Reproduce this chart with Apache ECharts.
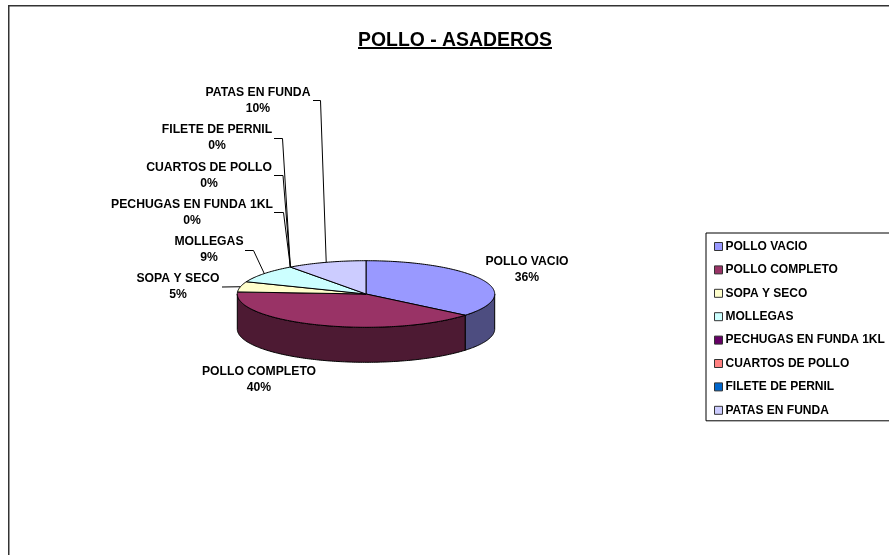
<!DOCTYPE html>
<html>
<head>
<meta charset="utf-8">
<style>
  html, body { margin: 0; padding: 0; background: #fff; }
  #chart { width: 889px; height: 555px; }
</style>
<script src="https://cdn.jsdelivr.net/npm/echarts@6/dist/echarts.min.js"></script>
</head>
<body>
<div id="chart"></div>
<script>
const titleText = 'POLLO - ASADEROS';
const categories = ['POLLO VACIO', 'POLLO COMPLETO', 'SOPA Y SECO', 'MOLLEGAS', 'PECHUGAS EN FUNDA 1KL', 'CUARTOS DE POLLO', 'FILETE DE PERNIL', 'PATAS EN FUNDA'];
const values = [36, 40, 5, 9, 0, 0, 0, 10];
const topColors = ['#9999FF', '#993366', '#FFFFCC', '#CCFFFF', '#660066', '#FF8080', '#0066CC', '#CCCCFF'];
const sideColors = ['#4D4D80', '#4D1A33', '#808066', '#668080', '#330033', '#804040', '#003366', '#666680'];

// 标签中心点 + 引线起点（折点）
const labelPos = [[527, 270], [259, 380], [178, 287], [209, 250], [192, 213], [209, 175.5], [217, 138], [258, 101]];
const leaderPos = [null, null, [[222, 287]], [[245, 250.5], [253.5, 250.5]], [[274, 212.5], [283.5, 212.5]], [[274, 175.5], [283, 175.5]], [[274, 138.5], [282.5, 138.5]], [[313, 100.5], [320.5, 100.5]]];

// 椭圆饼的几何
const cx = 366, cy = 294, rx = 128.7, ry = 33.3, depth = 35;
const total = values.reduce((a, b) => a + b, 0);
const font = 'bold 12.2px "Liberation Sans", Arial, sans-serif';

const edge = (deg) => {
  const a = deg * Math.PI / 180;
  return [cx + rx * Math.sin(a), cy - ry * Math.cos(a)];
};
const arcPoints = (from, to) => {
  const pts = [];
  for (let d = from; d < to; d += 1) pts.push(edge(d));
  pts.push(edge(to));
  return pts;
};

const renderSlice = (i) => {
  const start = values.slice(0, i).reduce((a, b) => a + b, 0) / total * 360;
  const end = start + values[i] / total * 360;
  const children = [];
  const border = { stroke: '#000', lineWidth: 1 };

  // 侧面：只画前半圈 (90° ~ 270°)
  const wallFrom = Math.max(start, 90), wallTo = Math.min(end, 270);
  if (wallTo > wallFrom) {
    const upper = arcPoints(wallFrom, wallTo);
    const lower = upper.map((p) => [p[0], p[1] + depth]).reverse();
    children.push({
      type: 'polygon',
      shape: { points: upper.concat(lower) },
      style: { fill: sideColors[i], ...border },
    });
  }
  // 顶面
  if (values[i] > 0) {
    children.push({
      type: 'polygon',
      shape: { points: [[cx, cy]].concat(arcPoints(start, end)) },
      style: { fill: topColors[i], ...border },
    });
  }
  // 引线
  if (leaderPos[i]) {
    children.push({
      type: 'polyline',
      shape: { points: leaderPos[i].concat([edge((start + end) / 2)]) },
      style: { fill: null, ...border },
    });
  }
  // 数据标签
  children.push({
    type: 'text',
    z2: 10,
    style: {
      x: labelPos[i][0],
      y: labelPos[i][1],
      text: categories[i] + '\n' + Math.round(values[i] / total * 100) + '%',
      font,
      fill: '#000',
      align: 'center',
      verticalAlign: 'middle',
      lineHeight: 16,
    },
  });
  return { type: 'group', children };
};

const myEchart = echarts.init(document.getElementById('chart'));
myEchart.setOption({
  animation: false,
  backgroundColor: '#fff',
  color: topColors,
  title: {
    text: titleText,
    left: 450,
    top: 26,
    textAlign: 'center',
    textStyle: { fontFamily: '"Liberation Sans", Arial, sans-serif', fontSize: 19.4, fontWeight: 'bold', color: '#000' },
  },
  legend: {
    orient: 'vertical',
    left: 706,
    top: 233,
    padding: [7, 14, 4, 8],
    itemWidth: 8,
    itemHeight: 8,
    itemGap: 10.4,
    icon: 'rect',
    selectedMode: false,
    backgroundColor: '#fff',
    borderColor: '#000',
    borderWidth: 1,
    itemStyle: { borderColor: '#333', borderWidth: 1 },
    textStyle: { fontFamily: '"Liberation Sans", Arial, sans-serif', fontSize: 12, fontWeight: 'bold', color: '#000', lineHeight: 13, padding: [0, 0, 0, -2] },
    data: categories,
  },
  // 外框和标题下划线
  graphic: [
    { type: 'rect', silent: true, z: -1, shape: { x: 8.75, y: 5.75, width: 1000, height: 800 }, style: { fill: null, stroke: '#333', lineWidth: 1.5 } },
    { type: 'line', silent: true, shape: { x1: 358, y1: 48, x2: 552, y2: 48 }, style: { stroke: '#000', lineWidth: 2 } },
  ],
  series: categories.map((name, i) => ({
    name,
    type: 'custom',
    coordinateSystem: 'none',
    silent: true,
    clip: false,
    data: [values[i]],
    renderItem: () => renderSlice(i),
  })),
});
</script>
</body>
</html>
